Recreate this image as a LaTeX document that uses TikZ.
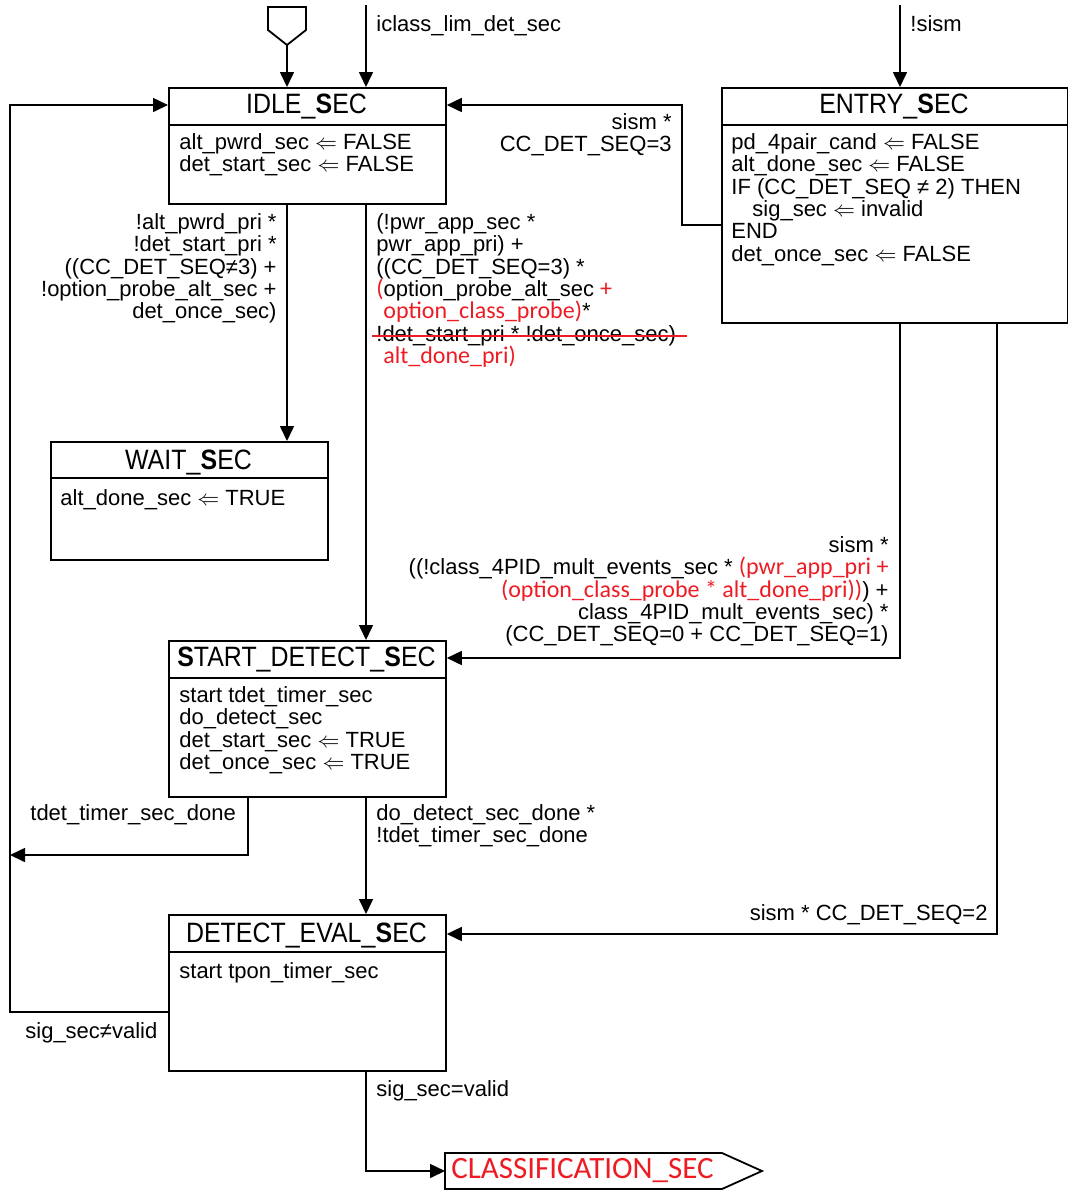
\documentclass[tikz,border=0pt]{standalone}
\usepackage{fontspec}
\setmainfont{Liberation Sans}
\newfontfamily\redfont{Carlito}
\newfontfamily\titlefont[FakeStretch=0.89]{Liberation Sans}
\definecolor{chgred}{RGB}{237,28,36}
\newcommand{\chg}[1]{{\color{chgred}\redfont\fontsize{12}{11.2}\selectfont #1}}
\usetikzlibrary{arrows.meta}

\begin{document}
\begin{tikzpicture}[x=0.5pt,y=-0.5pt,
  statebox/.style={draw,line width=0.9pt,anchor=north west,inner sep=0pt,
    minimum width=138.5pt},
  statetitle/.style={anchor=base,inner sep=0pt,
    font=\titlefont\fontsize{14}{14}\selectfont},
  body/.style={anchor=north west,inner sep=0pt,align=left,
    font=\fontsize{11}{11.2}\selectfont},
  cond/.style={inner sep=0pt,font=\fontsize{11}{11.2}\selectfont},
  divider/.style={line width=0.9pt},
  trans/.style={line width=0.8pt,-{Triangle[length=7.5pt,width=7pt]}}
]
  \useasboundingbox (0,0) rectangle (1068,1191);

  % Initial marker
  \draw[divider] (268,7) -- (306,7) -- (306,30) -- (287,45) -- (268,30) -- cycle;
  \coordinate (init) at (287,45);
  \coordinate (iclasssrc) at (366,5);
  \coordinate (sismsrc) at (900,5);

  % IDLE_SEC
  \node[statebox,minimum height=58pt] (idle) at (168,87) {};
  \node[statetitle] (idletitle) at (306.5,113) {IDLE\_\textbf{S}EC};
  \draw[divider] (idle.west |- 0,125) -- (idle.east |- 0,125);
  \node[body] (idlebody) at (179,133) {alt\_pwrd\_sec $\Leftarrow$ FALSE\\
    det\_start\_sec $\Leftarrow$ FALSE};

  % WAIT_SEC
  \node[statebox,minimum height=59pt] (wait) at (50,441) {};
  \node[statetitle] (waittitle) at (188.5,469) {WAIT\_\textbf{S}EC};
  \draw[divider] (wait.west |- 0,478) -- (wait.east |- 0,478);
  \node[body] (waitbody) at (60,489) {alt\_done\_sec $\Leftarrow$ TRUE};

  % ENTRY_SEC
  \node[statebox,minimum width=173pt,minimum height=117.5pt] (entry) at (721,87) {};
  \node[statetitle] (entrytitle) at (894,113) {ENTRY\_\textbf{S}EC};
  \draw[divider] (entry.west |- 0,125) -- (entry.east |- 0,125);
  \node[body] (entrybody) at (731,133) {pd\_4pair\_cand $\Leftarrow$ FALSE\\
    alt\_done\_sec $\Leftarrow$ FALSE\\
    IF (CC\_DET\_SEQ ≠ 2) THEN\\
    \hspace*{10.5pt}sig\_sec $\Leftarrow$ invalid\\
    END\\
    det\_once\_sec $\Leftarrow$ FALSE};

  % START_DETECT_SEC
  \node[statebox,minimum height=78pt] (start) at (168,640) {};
  \node[statetitle] (starttitle) at (306.5,666) {\textbf{S}TART\_DETECT\_\textbf{S}EC};
  \draw[divider] (start.west |- 0,678) -- (start.east |- 0,678);
  \node[body] (startbody) at (179,686) {start tdet\_timer\_sec\\
    do\_detect\_sec\\
    det\_start\_sec $\Leftarrow$ TRUE\\
    det\_once\_sec $\Leftarrow$ TRUE};

  % DETECT_EVAL_SEC
  \node[statebox,minimum height=78pt] (deval) at (168,914) {};
  \node[statetitle] (devaltitle) at (306.5,942) {DETECT\_EVAL\_\textbf{S}EC};
  \draw[divider] (deval.west |- 0,952) -- (deval.east |- 0,952);
  \node[body] (devalbody) at (179,962) {start tpon\_timer\_sec};

  % Off-page connector
  \node[anchor=west,inner xsep=3pt,inner ysep=0pt,text=chgred,
    font=\redfont\fontsize{15.5}{15.5}\selectfont] (classif) at (445,1171)
    {CLASSIFICATION\_SEC};
  \draw[divider] (445,1153) -- (722,1153) -- (762,1171) -- (722,1189)
    -- (445,1189) -- cycle;

  % Transitions
  \draw[trans] (init) -- (idle.north -| init);
  \draw[trans] (iclasssrc) -- (idle.north -| iclasssrc);
  \draw[trans] (sismsrc) -- (entry.north -| sismsrc);
  \draw[trans] (entry.west |- 0,225) -| (682,105) -- (idle.east |- 0,105);
  \draw[trans] (idle.south -| 287,0) -- (wait.north -| 287,0);
  \draw[trans] (idle.south -| 366,0) -- (start.north -| 366,0);
  \draw[trans] (entry.south -| 900,0) |- (start.east |- 0,658);
  \draw[trans] (entry.south -| 997,0) |- (deval.east |- 0,934);
  \draw[trans] (start.south -| 366,0) -- (deval.north -| 366,0);
  \coordinate (busjoin) at (10,855);
  \draw[trans] (start.south -| 248,0) |- (busjoin);
  \draw[trans] (deval.west |- 0,1012) -| (10,105) -- (idle.west |- 0,105);
  \draw[trans] (deval.south -| 366,0) |- (classif.west);

  % Conditions
  \node[cond,anchor=north west] (lbliclass) at (376,15) {iclass\_lim\_det\_sec};
  \node[cond,anchor=north west] (lblnsism) at (910,15) {!sism};
  \node[cond,anchor=north east,align=right] (lblseq3) at (672,113)
    {sism *\\CC\_DET\_SEQ=3};
  \node[cond,anchor=north east,align=right] (lblwait) at (277,213)
    {!alt\_pwrd\_pri *\\!det\_start\_pri *\\((CC\_DET\_SEQ≠3) +\\
    !option\_probe\_alt\_sec +\\det\_once\_sec)};
  \node[cond,anchor=north west,align=left] (lblstart) at (376,213)
    {(!pwr\_app\_sec *\\pwr\_app\_pri) +\\((CC\_DET\_SEQ=3) *\\
    \chg{(}option\_probe\_alt\_sec \chg{+}\\
    \hspace*{3.5pt}\chg{option\_class\_probe)}*\\
    !det\_start\_pri * !det\_once\_sec)\\
    \hspace*{3.5pt}\chg{alt\_done\_pri)}};
  \draw[chgred,line width=1pt] (372,336) -- (687,336);
  \node[cond,anchor=north east,align=right] (lblseq01) at (889,536)
    {sism *\\((!class\_4PID\_mult\_events\_sec * \chg{(pwr\_app\_pri +}\\
    \chg{(option\_class\_probe * alt\_done\_pri))}) +\\
    class\_4PID\_mult\_events\_sec) *\\
    (CC\_DET\_SEQ=0 + CC\_DET\_SEQ=1)};
  \node[cond,anchor=north east] (lblseq2) at (988,904) {sism * CC\_DET\_SEQ=2};
  \node[cond,anchor=north west] (lbltimeout) at (30,804) {tdet\_timer\_sec\_done};
  \node[cond,anchor=north west,align=left] (lbldetdone) at (376,804)
    {do\_detect\_sec\_done *\\!tdet\_timer\_sec\_done};
  \node[cond,anchor=north west] (lblinvalid) at (25,1022) {sig\_sec≠valid};
  \node[cond,anchor=north west] (lblvalid) at (376,1080) {sig\_sec=valid};
\end{tikzpicture}
\end{document}
